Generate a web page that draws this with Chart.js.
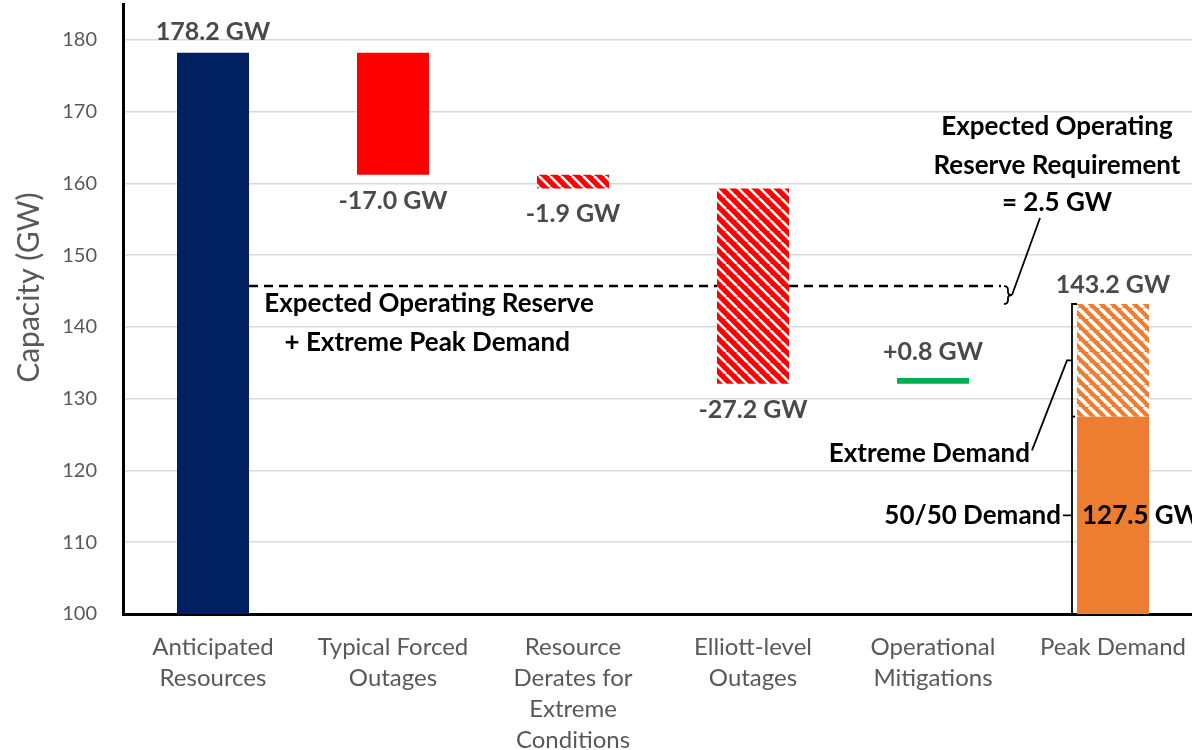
<!DOCTYPE html>
<html>
<head>
<meta charset="utf-8">
<title>Capacity waterfall</title>
<script src="https://cdn.jsdelivr.net/npm/chart.js@4.4.0/dist/chart.umd.min.js"></script>
<style>
  html, body { margin: 0; padding: 0; background: #fff; overflow: hidden; }
  #wrap { width: 1210px; height: 750px; }
</style>
</head>
<body>
<div id="wrap"><canvas id="capacityChart" width="1210" height="750"></canvas></div>
<script>
// Column labels (multi-line)
const categories = [
  ['Anticipated', 'Resources'],
  ['Typical Forced', 'Outages'],
  ['Resource', 'Derates for', 'Extreme', 'Conditions'],
  ['Elliott-level', 'Outages'],
  ['Operational', 'Mitigations'],
  ['Peak Demand']
];
const anticipatedResources = 178.2;
// Steps between the first and last column, in GW
const capacityChanges = [-17.0, -1.9, -27.2, 0.8];
const demand5050 = 127.5;
const demandExtreme = 143.2;
const reserveRequirement = 2.5;
const yTicks = [100, 110, 120, 130, 140, 150, 160, 170, 180];
const yMax = 185;

const FONT = 'Lato';
const NAVY = '#002060', RED = '#ff0000', GREEN = '#00b050', ORANGE = '#ed7d31';

// diagonal hatch fill
function makeHatch(bg, stripe, lineW) {
  const size = 11;
  const c = document.createElement('canvas');
  c.width = size; c.height = size;
  const g = c.getContext('2d');
  g.fillStyle = bg;
  g.fillRect(0, 0, size, size);
  g.strokeStyle = stripe;
  g.lineWidth = lineW;
  g.beginPath();
  for (const k of [-size, 0, size]) {
    g.moveTo(k, 0);
    g.lineTo(k + size, size);
  }
  g.stroke();
  return g.createPattern(c, 'repeat');
}
const redHatch = makeHatch(RED, '#fff', 2.6);
const orangeHatch = makeHatch(ORANGE, '#fff', 3.6);

// running total -> floating bars
let running = anticipatedResources;
const stepBars = capacityChanges.map(c => {
  const start = running;
  running += c;
  return [Math.min(start, running), Math.max(start, running)];
});
const baseBars = [[yTicks[0], anticipatedResources], ...stepBars, [yTicks[0], demand5050]];
const extremeBars = [null, null, null, null, null, [demand5050, demandExtreme]];
const reserveLevel = demandExtreme + reserveRequirement;

const gw = v => v.toFixed(1) + ' GW';
const signed = v => (v > 0 ? '+' : '') + v.toFixed(1) + ' GW';

function text(ctx, str, x, y, opts) {
  ctx.save();
  ctx.font = (opts.weight || 'normal') + ' ' + opts.size + 'px ' + FONT;
  ctx.fillStyle = opts.color || '#000';
  ctx.textAlign = opts.align || 'center';
  ctx.textBaseline = 'middle';
  ctx.fillText(str, x, y);
  ctx.restore();
}

const annotations = {
  id: 'annotations',
  beforeDatasetsDraw(chart) {
    const {ctx, scales: {x, y}} = chart;
    const half = chart.getDatasetMeta(0).data[0].width / 2;
    // reserve + extreme demand level
    ctx.save();
    ctx.strokeStyle = '#000';
    ctx.lineWidth = 2.5;
    ctx.setLineDash([9, 6]);
    ctx.beginPath();
    ctx.moveTo(x.getPixelForValue(0) + half, y.getPixelForValue(reserveLevel));
    ctx.lineTo(x.getPixelForValue(5) - 112, y.getPixelForValue(reserveLevel));
    ctx.stroke();
    ctx.restore();
  },
  afterDatasetsDraw(chart) {
    const {ctx, chartArea, scales: {x, y}} = chart;
    const half = chart.getDatasetMeta(0).data[0].width / 2;
    const lab = {size: 25, weight: 'bold', color: '#4a4a4a'};

    // axis title
    ctx.save();
    ctx.translate(29, chartArea.top + (chartArea.bottom - chartArea.top) * 0.465);
    ctx.rotate(-Math.PI / 2);
    text(ctx, 'Capacity (GW)', 0, 0, {size: 30, color: '#595959'});
    ctx.restore();

    // value labels
    text(ctx, gw(anticipatedResources), x.getPixelForValue(0), y.getPixelForValue(anticipatedResources) - 21, lab);
    capacityChanges.forEach((c, i) => {
      const [lo, hi] = stepBars[i];
      const yy = c < 0 ? y.getPixelForValue(lo) + 26 : y.getPixelForValue(hi) - 26;
      text(ctx, signed(c), x.getPixelForValue(i + 1), yy, lab);
    });
    text(ctx, gw(demandExtreme), x.getPixelForValue(5), y.getPixelForValue(demandExtreme) - 19, lab);

    const px5 = x.getPixelForValue(5);
    const bold = {size: 26, weight: 'bold', color: '#000'};
    text(ctx, gw(demand5050), px5 - half + 5, y.getPixelForValue((yTicks[0] + demand5050) / 2), Object.assign({}, bold, {align: 'left'}));

    // notes under the dashed line
    const yr = y.getPixelForValue(reserveLevel);
    text(ctx, 'Expected Operating Reserve', x.getPixelForValue(1.2), yr + 18, bold);
    text(ctx, '+ Extreme Peak Demand', x.getPixelForValue(1.19), yr + 57, bold);

    // reserve requirement note with brace
    const bx = px5 - 105;
    const yTop = yr, yBot = y.getPixelForValue(demandExtreme), yMid = (yTop + yBot) / 2;
    const noteX = px5 - 56;
    text(ctx, 'Expected Operating', noteX, yr - 159, bold);
    text(ctx, 'Reserve Requirement', noteX, yr - 120, bold);
    text(ctx, '= ' + gw(reserveRequirement), noteX, yr - 83, bold);

    ctx.save();
    ctx.strokeStyle = '#000';
    ctx.lineWidth = 1.8;
    ctx.beginPath();
    ctx.moveTo(bx - 4, yTop);
    ctx.quadraticCurveTo(bx, yTop, bx, yTop + 4);
    ctx.lineTo(bx, yMid - 3);
    ctx.quadraticCurveTo(bx, yMid, bx + 4, yMid);
    ctx.quadraticCurveTo(bx, yMid, bx, yMid + 3);
    ctx.lineTo(bx, yBot - 4);
    ctx.quadraticCurveTo(bx, yBot, bx - 4, yBot);
    ctx.moveTo(bx + 4, yMid);
    ctx.lineTo(noteX - 17, yr - 68);
    ctx.stroke();

    // bracket beside the peak demand column
    const kx = px5 - half - 5;
    const yPeak = y.getPixelForValue(demandExtreme);
    const yBase = y.getPixelForValue(yTicks[0]);
    const yExtMid = y.getPixelForValue((demand5050 + demandExtreme) / 2);
    const yMidBase = y.getPixelForValue((yTicks[0] + demand5050) / 2);
    const ySplit = y.getPixelForValue(demand5050);
    ctx.beginPath();
    ctx.moveTo(kx + 5, yPeak);
    ctx.lineTo(kx, yPeak);
    ctx.lineTo(kx, yBase);
    ctx.lineTo(kx + 5, yBase);
    ctx.moveTo(kx, ySplit);
    ctx.lineTo(kx + 3, ySplit);
    ctx.moveTo(kx, yExtMid);
    ctx.lineTo(kx - 5, yExtMid);
    ctx.lineTo(kx - 40, yExtMid + 90);
    ctx.moveTo(kx, yMidBase);
    ctx.lineTo(kx - 9, yMidBase);
    ctx.stroke();
    ctx.restore();

    text(ctx, 'Extreme Demand', kx - 42, yExtMid + 93, Object.assign({}, bold, {align: 'right'}));
    text(ctx, '50/50 Demand', kx - 11, yMidBase, Object.assign({}, bold, {align: 'right'}));
  }
};

new Chart(document.getElementById('capacityChart'), {
  type: 'bar',
  data: {
    labels: categories,
    datasets: [
      {
        data: baseBars,
        backgroundColor: [NAVY, RED, redHatch, redHatch, GREEN, ORANGE],
        grouped: false,
        barPercentage: 0.4,
        categoryPercentage: 1.0,
        borderWidth: 0
      },
      {
        data: extremeBars,
        backgroundColor: orangeHatch,
        grouped: false,
        barPercentage: 0.4,
        categoryPercentage: 1.0,
        borderWidth: 0
      }
    ]
  },
  options: {
    responsive: false,
    devicePixelRatio: 1,
    animation: false,
    layout: { padding: { top: 4, right: 7, left: 0, bottom: 0 } },
    plugins: {
      legend: { display: false },
      tooltip: { enabled: false }
    },
    scales: {
      x: {
        grid: { drawOnChartArea: false, drawTicks: false },
        border: { color: '#000', width: 3 },
        ticks: {
          color: '#595959',
          font: { family: FONT, size: 24, lineHeight: 1.29 },
          padding: 18,
          maxRotation: 0,
          autoSkip: false
        },
        afterFit(scale) { scale.height = 136; scale.paddingLeft = 0; scale.paddingRight = 0; }
      },
      y: {
        min: yTicks[0],
        max: yMax,
        afterBuildTicks(scale) { scale.ticks = yTicks.map(v => ({ value: v })); },
        grid: { color: '#d9d9d9', lineWidth: 1.5, drawTicks: false },
        border: { color: '#000', width: 3 },
        ticks: {
          color: '#595959',
          font: { family: FONT, size: 20 },
          padding: 26
        },
        afterFit(scale) { scale.width = 123; scale.paddingTop = 0; scale.paddingBottom = 0; }
      }
    }
  },
  plugins: [annotations]
});
</script>
</body>
</html>
